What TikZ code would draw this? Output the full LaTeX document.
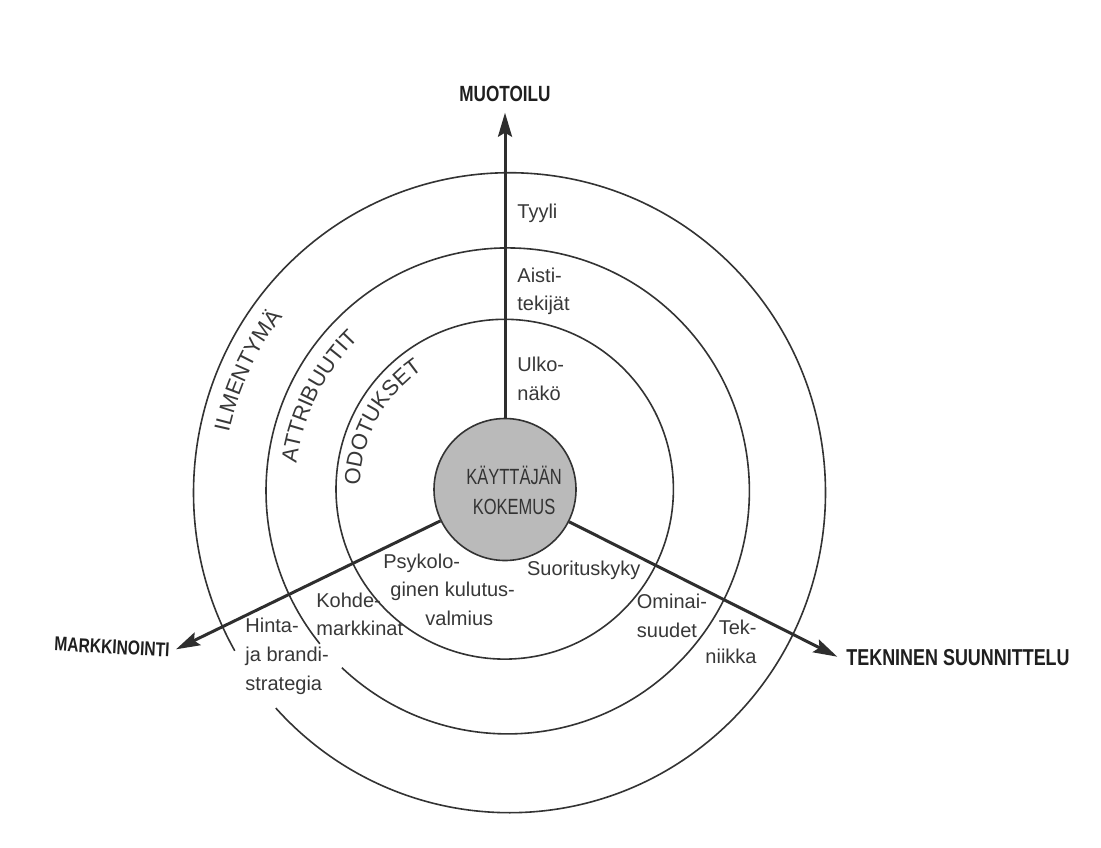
\documentclass[tikz,border=0pt]{standalone}
\usepackage{fontspec}
\setmainfont{Liberation Sans}
\newfontfamily\headfont[FakeStretch=0.78]{Liberation Sans}
\newfontfamily\corefont[FakeStretch=0.75]{Liberation Sans}
\usetikzlibrary{arrows.meta,decorations.text}
\begin{document}
\begin{tikzpicture}[x=0.5pt,y=0.5pt,
  ring/.style={draw=black!80, line width=0.8pt},
  axis/.style={draw=black!82, line width=1.5pt, -{Stealth[length=12pt,width=7pt,inset=2pt]}},
  lbl/.style={font=\fontsize{10}{14.5}\selectfont, text=black!78, inner sep=1pt},
  head/.style={font=\headfont\bfseries\fontsize{11}{13}\selectfont, text=black!88, inner sep=0pt},
  ringtext/.style={decorate, decoration={text along path, text align=center, text={#1}}}
]
\useasboundingbox (0,0) rectangle (1101,-847);
\fill[white] (0,0) rectangle (1101,-847);

% ring centres
\coordinate (c3) at (509.5,-492.7);
\coordinate (c2) at (507.7,-490.9);
\coordinate (c1) at (504.7,-489.2);

% rings (outer and middle are broken behind the marketing labels)
\draw[ring] (c3) ++(222.3:316 and 320) arc[start angle=222.3, end angle=569.6, x radius=316, y radius=320];
\draw[ring] (c2) ++(226.7:241.7 and 243) arc[start angle=226.7, end angle=579, x radius=241.7, y radius=243];
\draw[ring] (c1) ellipse[x radius=168.7, y radius=169.9];

% ring names
\path[ringtext={|\fontsize{11}{13}\selectfont\color{black!78}|ILMENTYMÄ}]
  (c3) ++(185:287) arc[start angle=185, end angle=125, radius=287];
\path[ringtext={|\fontsize{11}{13}\selectfont\color{black!78}|ATTRIBUUTIT}]
  (c2) ++(183.5:213) arc[start angle=183.5, end angle=123.5, radius=213];
\path[ringtext={|\fontsize{11}{13}\selectfont\color{black!78}|ODOTUKSET}]
  (c1) ++(181.5:145) arc[start angle=181.5, end angle=121.5, radius=145];

% labels
\node[lbl, anchor=west] (tyyli) at (515,-213) {Tyyli};
\node[lbl, anchor=west, align=left, font=\fontsize{10}{14}\selectfont] (aisti) at (515,-291) {Aisti-\\tekijät};
\node[lbl, anchor=west, align=left, font=\fontsize{10}{14.5}\selectfont] (ulko) at (515,-378.5) {Ulko-\\näkö};
\node[lbl, anchor=west, align=left, font=\fontsize{10}{14.2}\selectfont] (psyk) at (381,-589.5)
  {Psykolo-\\\hspace*{3.5pt}ginen kulutus-\\\hspace*{21pt}valmius};
\node[lbl, anchor=west] (suor) at (524.7,-570.7) {Suorituskyky};
\node[lbl, anchor=west, align=left, font=\fontsize{10}{14}\selectfont] (kohde) at (314,-614) {Kohde-\\markkinat};
\node[lbl, anchor=west, align=left] (hinta) at (243,-656) {Hinta-\\ja brandi-\\strategia};
\node[lbl, anchor=west, align=left, font=\fontsize{10}{14.2}\selectfont] (omin) at (634.5,-616) {Ominai-\\suudet};
\node[lbl, anchor=east, align=right, font=\fontsize{10}{14.8}\selectfont] (tek) at (759,-642) {Tek-\\niikka};

% axis titles
\node[head] (muot) at (505,-94) {MUOTOILU};
\node[head, anchor=west, font=\headfont\bfseries\fontsize{11.5}{13}\selectfont] (tekn) at (846,-658) {TEKNINEN SUUNNITTELU};
\node[head, anchor=east, rotate=-3, font=\headfont\bfseries\fontsize{10}{12}\selectfont] (mark) at (170,-650) {MARKKINOINTI};

% core
\node[circle, draw=black!80, line width=0.8pt, fill=black!27, minimum size=71pt, inner sep=0pt] (core) at (505,-489.5) {};
\node[font=\corefont\fontsize{11}{15}\selectfont, text=black!80, align=center] (corelbl) at (514,-490) {KÄYTTÄJÄN\\KOKEMUS};

% axes
\coordinate (tipN) at (505,-112.7);
\coordinate (tipW) at (176,-649.3);
\coordinate (tipE) at (837.3,-656.7);
\draw[axis] (core) -- (tipN);
\draw[axis] (core) -- (tipW);
\draw[axis] (core) -- (tipE);
\end{tikzpicture}
\end{document}
